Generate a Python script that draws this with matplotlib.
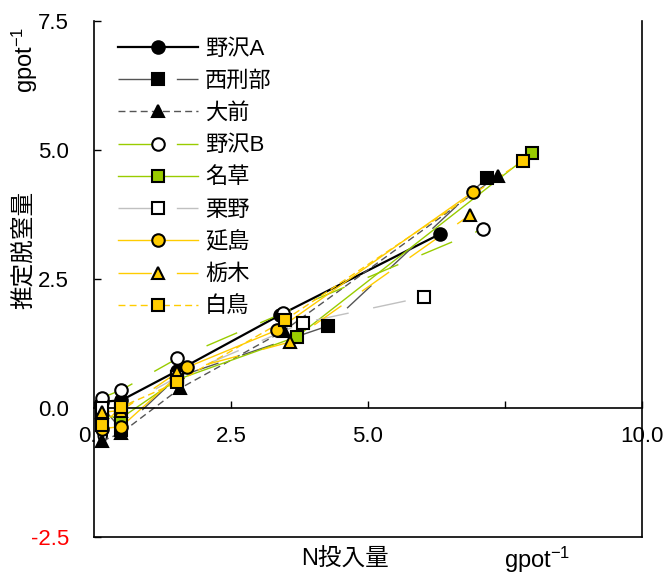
import matplotlib
matplotlib.use('Agg')
import matplotlib.pyplot as plt
from matplotlib.lines import Line2D

plt.rcParams['font.family'] = ['Liberation Sans', 'Noto Sans CJK JP']
plt.rcParams['mathtext.fontset'] = 'custom'
plt.rcParams['mathtext.rm'] = 'Liberation Sans'
plt.rcParams['mathtext.default'] = 'regular'

## data: N input vs estimated denitrification, one list pair per site
sites = ['野沢A', '西刑部', '大前', '野沢B', '名草', '栗野', '延島', '栃木', '白鳥']

x_nozawaA = [0.15, 0.50, 1.52, 3.39, 6.31]
y_nozawaA = [0.12, 0.15, 0.72, 1.80, 3.37]
x_nishi = [0.15, 0.50, 1.52, 4.27, 7.17]
y_nishi = [0.02, -0.42, 0.60, 1.59, 4.46]
x_omae = [0.15, 0.50, 1.57, 3.47, 7.37]
y_omae = [-0.64, -0.48, 0.38, 1.50, 4.50]
x_nozawaB = [0.15, 0.50, 1.52, 3.45, 7.10]
y_nozawaB = [0.20, 0.35, 0.96, 1.84, 3.47]
x_nagusa = [0.15, 0.50, 1.52, 3.70, 7.99]
y_nagusa = [-0.15, -0.19, 0.55, 1.38, 4.94]
x_kurino = [0.15, 0.50, 1.52, 3.81, 6.02]
y_kurino = [0.00, 0.00, 0.60, 1.65, 2.15]
x_nobeshima = [0.15, 0.50, 1.70, 3.34, 6.92]
y_nobeshima = [-0.40, -0.36, 0.79, 1.51, 4.19]
x_tochigi = [0.15, 0.50, 1.52, 3.58, 6.86]
y_tochigi = [-0.08, -0.05, 0.69, 1.28, 3.74]
x_shiratori = [0.15, 0.50, 1.52, 3.49, 7.83]
y_shiratori = [-0.33, 0.02, 0.50, 1.71, 4.79]

xs = [x_nozawaA, x_nishi, x_omae, x_nozawaB, x_nagusa, x_kurino, x_nobeshima, x_tochigi, x_shiratori]
ys = [y_nozawaA, y_nishi, y_omae, y_nozawaB, y_nagusa, y_kurino, y_nobeshima, y_tochigi, y_shiratori]

green = '#99cc00'
gold = '#ffcc00'
longdash = (0, (24, 18))
shortdash = (0, (5, 3))

# line colour, line style, line width, marker, marker fill
styles = [
    ('black', '-', 1.6, 'o', 'black'),
    ('#555555', longdash, 1.0, 's', 'black'),
    ('#555555', shortdash, 1.0, '^', 'black'),
    (green, longdash, 1.0, 'o', 'white'),
    (green, '-', 1.0, 's', green),
    ('#c0c0c0', longdash, 1.0, 's', 'white'),
    (gold, '-', 1.0, 'o', gold),
    (gold, longdash, 1.0, '^', gold),
    (gold, shortdash, 1.0, 's', gold),
]

fig = plt.figure(figsize=(6.63, 5.82), dpi=100)
ax = fig.add_axes([94/663, 45/582, 548/663, 516/582])

handles = []
for x, y, (lc, ls, lw, mk, mf) in zip(xs, ys, styles):
    ax.plot(x, y, color=lc, linestyle=ls, linewidth=lw, zorder=2)
    ax.plot(x, y, linestyle='none', marker=mk, markersize=9,
            markerfacecolor=mf, markeredgecolor='black', markeredgewidth=1.5, zorder=3)
    handles.append(Line2D([], [], color=lc, linestyle=ls, linewidth=lw, marker=mk,
                          markersize=9, markerfacecolor=mf, markeredgecolor='black',
                          markeredgewidth=1.5))

ax.set_xlim(0, 10)
ax.set_ylim(-2.5, 7.5)

ax.set_xticks([0, 2.5, 5, 7.5, 10])
ax.set_xticklabels(['0.0', '2.5', '5.0', '', '10.0'])
ax.set_yticks([-2.5, 0, 2.5, 5, 7.5])
ax.set_yticklabels(['-2.5', '0.0', '2.5', '5.0', '7.5'])
ax.get_yticklabels()[0].set_color('red')

ax.spines['bottom'].set_position(('data', 0))
ax.spines['top'].set_visible(False)
for s in ['left', 'bottom', 'right']:
    ax.spines[s].set_linewidth(1.2)
ax.tick_params(axis='x', direction='in', length=5, width=1, pad=13, labelsize=16)
ax.tick_params(axis='y', direction='in', length=5, width=1, pad=18, labelsize=16)

# outer frame line along the bottom
ax.plot([0, 1], [0, 0], color='black', linewidth=1.2, transform=ax.transAxes, clip_on=False)

ax.legend(handles, sites, loc='upper left', bbox_to_anchor=(118/663, 1 - 39/582),
          bbox_transform=fig.transFigure, frameon=False, fontsize=16,
          handlelength=3.6, handletextpad=0.32, labelspacing=0.5,
          borderpad=0, borderaxespad=0)

fig.text(25/663, 1 - 250/582, '推定脱窒量', rotation=90, ha='center', va='center', fontsize=17)
fig.text(25/663, 1 - 60/582, 'gpot$^{-1}$', rotation=90, ha='center', va='center', fontsize=17)
fig.text(345/663, 1 - 560/582, 'N投入量', ha='center', va='center', fontsize=17)
fig.text(537/663, 1 - 560/582, 'gpot$^{-1}$', ha='center', va='center', fontsize=17)

plt.savefig('out.png', dpi=100)
